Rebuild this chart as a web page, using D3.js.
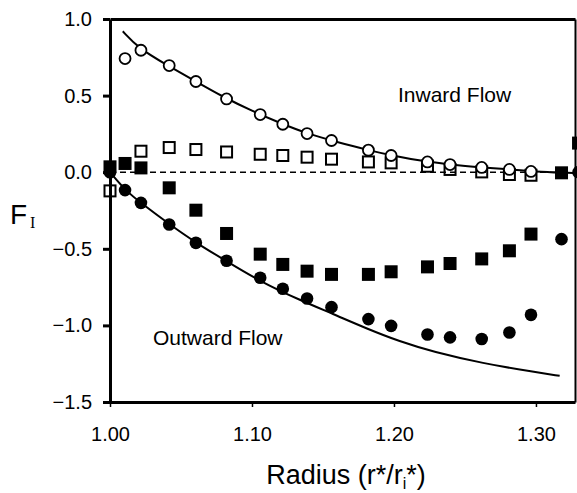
<!DOCTYPE html>
<html>
<head>
<meta charset="utf-8">
<script src="https://cdn.jsdelivr.net/npm/d3@7"></script>
<style>
  body { margin: 0; background: #fff; }
  text { font-family: "Liberation Sans", Arial, sans-serif; fill: #000; }
</style>
</head>
<body>
<div id="wrapper"></div>
<script>
// sampled radii (r*/ri*) shared by the four measured series
const radius = [1.000, 1.0106, 1.0218, 1.0417, 1.0605, 1.0821, 1.1058, 1.1217, 1.1388,
  1.156, 1.182, 1.198, 1.2236, 1.2395, 1.2618, 1.2813, 1.2965, 1.318, 1.33]

// null = no marker at that radius
const openCircles = [null, 0.742, 0.796, 0.696, 0.592, 0.478, 0.376, 0.313, 0.252,
  0.207, 0.144, 0.109, 0.067, 0.050, 0.031, 0.018, 0.005, null, null]
const openSquares = [-0.122, null, 0.137, 0.161, 0.148, 0.132, 0.117, 0.109, 0.098,
  0.085, 0.067, 0.061, 0.039, 0.018, 0.002, -0.015, -0.020, null, null]
const filledSquares = [0.035, 0.057, 0.028, -0.102, -0.248, -0.40, -0.535, -0.602, -0.646,
  -0.667, -0.667, -0.650, -0.618, -0.596, -0.566, -0.513, -0.404, -0.004, 0.19]
const filledCircles = [0.0, -0.117, -0.200, -0.341, -0.461, -0.578, -0.689, -0.761, -0.824,
  -0.881, -0.959, -1.003, -1.059, -1.078, -1.089, -1.046, -0.931, -0.437, 0.0]

// model curves
const inwardFitX = [1.009, 1.02, 1.04, 1.06, 1.08, 1.10, 1.12, 1.14, 1.16, 1.18, 1.20,
  1.22, 1.24, 1.26, 1.28, 1.30, 1.32, 1.3275]
const inwardFitY = [0.92, 0.81, 0.70, 0.595, 0.49, 0.40, 0.32, 0.248, 0.197, 0.148, 0.106,
  0.072, 0.050, 0.032, 0.019, 0.004, -0.003, -0.005]
const outwardFitX = [1.0, 1.0106, 1.0223, 1.042, 1.0605, 1.082, 1.1055, 1.1337, 1.157,
  1.1806, 1.204, 1.2275, 1.2627, 1.298, 1.3167]
const outwardFitY = [0.0, -0.117, -0.205, -0.341, -0.461, -0.58, -0.712, -0.835, -0.925,
  -1.02, -1.105, -1.172, -1.248, -1.303, -1.329]

const xTicks = [1.0, 1.1, 1.2, 1.3]
const yTicks = [1.0, 0.5, 0.0, -0.5, -1.0, -1.5]

const dimensions = {
  width: 577,
  height: 493,
  margin: { top: 19, right: 2, bottom: 91, left: 110 },
}
dimensions.boundedWidth = dimensions.width - dimensions.margin.left - dimensions.margin.right
dimensions.boundedHeight = dimensions.height - dimensions.margin.top - dimensions.margin.bottom

const svg = d3.select("#wrapper").append("svg")
    .attr("width", dimensions.width)
    .attr("height", dimensions.height)

const bounds = svg.append("g")
    .attr("transform", `translate(${dimensions.margin.left},${dimensions.margin.top})`)

const xScale = d3.scaleLinear()
    .domain([1.0, 1.3275])
    .range([0, dimensions.boundedWidth])
const yScale = d3.scaleLinear()
    .domain([-1.5, 1.0])
    .range([dimensions.boundedHeight, 0])

// zero reference
bounds.append("line")
    .attr("x1", xScale(1.0)).attr("x2", xScale(1.32))
    .attr("y1", yScale(0)).attr("y2", yScale(0))
    .attr("stroke", "#000")
    .attr("stroke-width", 1.6)
    .attr("stroke-dasharray", "6,4")

const line = d3.line()
    .x(d => xScale(d[0]))
    .y(d => yScale(d[1]))
    .curve(d3.curveBasis)

bounds.append("path")
    .datum(d3.zip(inwardFitX, inwardFitY))
    .attr("d", line)
    .attr("fill", "none").attr("stroke", "#000").attr("stroke-width", 2)
bounds.append("path")
    .datum(d3.zip(outwardFitX, outwardFitY))
    .attr("d", line)
    .attr("fill", "none").attr("stroke", "#000").attr("stroke-width", 2)

const pts = vals => radius.map((r, i) => [r, vals[i]]).filter(d => d[1] !== null)

// markers
bounds.selectAll(".osq")
    .data(pts(openSquares))
  .join("rect")
    .attr("x", d => xScale(d[0]) - 5.5)
    .attr("y", d => yScale(d[1]) - 5.5)
    .attr("width", 11).attr("height", 11)
    .attr("fill", "none").attr("stroke", "#000").attr("stroke-width", 2)

bounds.selectAll(".fsq")
    .data(pts(filledSquares))
  .join("rect")
    .attr("x", d => xScale(d[0]) - 6.5)
    .attr("y", d => yScale(d[1]) - 6.5)
    .attr("width", 13).attr("height", 13)
    .attr("fill", "#000")

bounds.selectAll(".fci")
    .data(pts(filledCircles))
  .join("circle")
    .attr("cx", d => xScale(d[0]))
    .attr("cy", d => yScale(d[1]))
    .attr("r", 6.3)
    .attr("fill", "#000")

bounds.selectAll(".oci")
    .data(pts(openCircles))
  .join("circle")
    .attr("cx", d => xScale(d[0]))
    .attr("cy", d => yScale(d[1]))
    .attr("r", 5.5)
    .attr("fill", "#fff").attr("stroke", "#000").attr("stroke-width", 1.8)

// frame and axes
const xAxis = bounds.append("g")
    .attr("transform", `translate(0,${dimensions.boundedHeight})`)
    .call(d3.axisBottom(xScale).tickValues(xTicks).tickFormat(d3.format(".2f"))
      .tickSizeInner(5).tickSizeOuter(0).tickPadding(20))
const yAxis = bounds.append("g")
    .call(d3.axisLeft(yScale).tickValues(yTicks).tickFormat(d3.format(".1f"))
      .tickSizeInner(7).tickSizeOuter(0).tickPadding(11))
const topAxis = bounds.append("g")
    .call(d3.axisTop(xScale).tickValues([]).tickSizeOuter(0))
const rightAxis = bounds.append("g")
    .attr("transform", `translate(${dimensions.boundedWidth},0)`)
    .call(d3.axisRight(yScale).tickValues([]).tickSizeOuter(0))

xAxis.select(".domain").attr("stroke-width", 3)
yAxis.select(".domain").attr("stroke-width", 3)
topAxis.select(".domain").attr("stroke-width", 3)
rightAxis.select(".domain").attr("stroke-width", 2)
xAxis.selectAll(".tick line").attr("stroke-width", 1.5)
yAxis.selectAll(".tick line").attr("stroke-width", 3)
svg.selectAll(".tick text")
    .attr("font-family", "Liberation Sans, Arial, sans-serif")
    .style("font-size", "20px")

// labels
bounds.append("text")
    .attr("x", 288).attr("y", 83)
    .style("font-size", "21px")
    .text("Inward Flow")
bounds.append("text")
    .attr("x", 43).attr("y", 326)
    .style("font-size", "21px")
    .text("Outward Flow")

const xLabel = svg.append("text")
    .attr("x", 346).attr("y", 484)
    .attr("text-anchor", "middle")
    .style("font-size", "27px")
xLabel.append("tspan").text("Radius (r*/r")
xLabel.append("tspan").attr("dy", 5).style("font-size", "16px").text("i")
xLabel.append("tspan").attr("dy", -5).text("*)")

const yLabel = svg.append("text")
    .attr("x", 10).attr("y", 224)
    .style("font-size", "28px")
yLabel.append("tspan").text("F")
yLabel.append("tspan")
    .attr("dx", 3).attr("dy", 4)
    .style("font-family", "Liberation Serif, Times New Roman, serif")
    .style("font-size", "16px")
    .text("I")
</script>
</body>
</html>
